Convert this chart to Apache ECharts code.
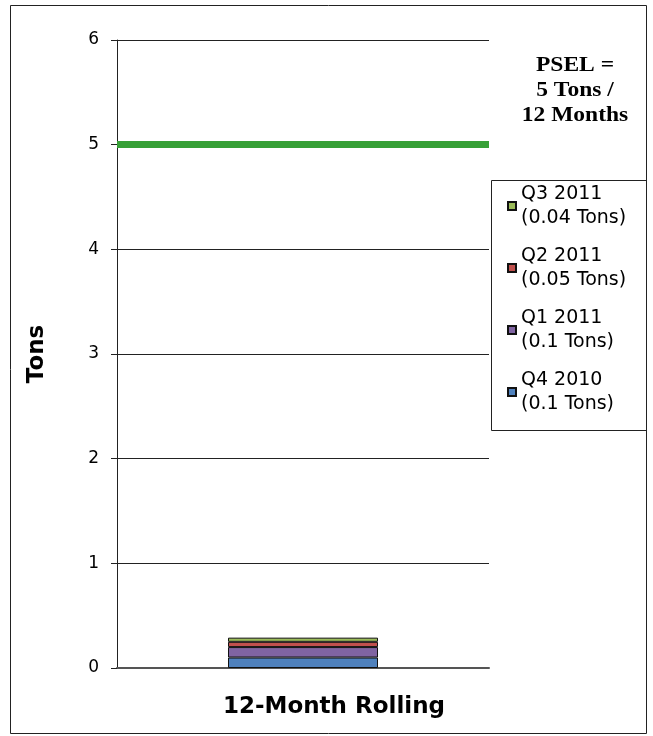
<!DOCTYPE html>
<html>
<head>
<meta charset="utf-8">
<script src="https://cdn.jsdelivr.net/npm/echarts@6/dist/echarts.min.js"></script>
<style>
  html, body { margin: 0; padding: 0; background: #fff; }
  #chart { width: 653px; height: 736px; }
</style>
</head>
<body>
<div id="chart"></div>
<script>
// Rolling emissions total, stacked by quarter (tons)
const categories = ['12-Month Rolling'];
const quarterNames = ['Q4 2010', 'Q1 2011', 'Q2 2011', 'Q3 2011'];
const quarterTons = [0.1, 0.1, 0.05, 0.04];
const quarterColors = ['#4f81bd', '#8064a2', '#c0504d', '#9bbb59'];
const pselLimit = 5;
const pselText = ['PSEL =', '5 Tons /', '12 Months'];
const yMin = 0, yMax = 6, yStep = 1;

const chart = echarts.init(document.getElementById('chart'));

const tonsByName = {};
quarterNames.forEach((n, i) => { tonsByName[n] = quarterTons[i]; });

const series = quarterNames.map((name, i) => {
  const s = {
    name: name,
    type: 'bar',
    stack: 'total',
    barWidth: 150,
    data: [quarterTons[i]],
    itemStyle: { color: quarterColors[i], borderColor: '#111', borderWidth: 1 },
    emphasis: { disabled: true }
  };
  if (i === quarterNames.length - 1) {
    // permitted limit line across the plot
    s.markLine = {
      silent: true,
      symbol: ['none', 'none'],
      label: { show: false },
      lineStyle: { color: '#37a037', width: 7, type: 'solid' },
      data: [{ yAxis: pselLimit }]
    };
  }
  return s;
});

chart.setOption({
  backgroundColor: '#fff',
  animation: false,
  grid: { left: 117, top: 40, right: 164, bottom: 68 },
  xAxis: {
    type: 'category',
    data: categories,
    axisLine: { lineStyle: { color: '#555', width: 2 } },
    axisTick: { show: false },
    axisLabel: {
      color: '#000',
      fontFamily: 'DejaVu Sans',
      fontWeight: 'bold',
      fontSize: 23,
      margin: 28,
      padding: [0, 0, 0, 62]
    }
  },
  yAxis: {
    type: 'value',
    min: yMin, max: yMax, interval: yStep,
    name: 'Tons',
    nameLocation: 'middle',
    nameRotate: 90,
    nameGap: 68,
    nameTextStyle: { color: '#000', fontFamily: 'DejaVu Sans', fontWeight: 'bold', fontSize: 23 },
    axisLine: { show: true, lineStyle: { color: '#222', width: 1 } },
    axisTick: { show: true, inside: false, length: 6, lineStyle: { color: '#222' } },
    axisLabel: { color: '#000', fontFamily: 'DejaVu Sans', fontSize: 17, margin: 18 },
    splitLine: { show: true, lineStyle: { color: '#222', width: 1 } }
  },
  legend: {
    orient: 'vertical',
    left: 502,
    top: 165,
    itemWidth: 8,
    itemHeight: 8,
    itemGap: -10,
    icon: 'rect',
    selectedMode: false,
    data: quarterNames.slice().reverse(),
    formatter: name => name + '\n(' + tonsByName[name] + ' Tons)',
    textStyle: {
      color: '#000',
      fontFamily: 'DejaVu Sans',
      fontSize: 19,
      lineHeight: 24,
      padding: [24, 0, 0, 0]
    }
  },
  graphic: [
    {
      type: 'rect',
      silent: true,
      shape: { x: 10.5, y: 5.5, width: 636, height: 728 },
      style: { fill: 'none', stroke: '#222', lineWidth: 1 }
    },
    {
      type: 'rect',
      silent: true,
      shape: { x: 491.5, y: 180.5, width: 155, height: 250 },
      style: { fill: 'none', stroke: '#222', lineWidth: 1 }
    }
  ].concat(pselText.map((t, i) => ({
    type: 'text',
    silent: true,
    x: 575,
    y: 66 + i * 25,
    scaleX: 1.12,
    style: {
      text: t,
      fill: '#000',
      font: 'bold 21px "Liberation Serif", "Times New Roman", serif',
      align: 'center',
      verticalAlign: 'middle'
    }
  }))),
  series: series
});
</script>
</body>
</html>
